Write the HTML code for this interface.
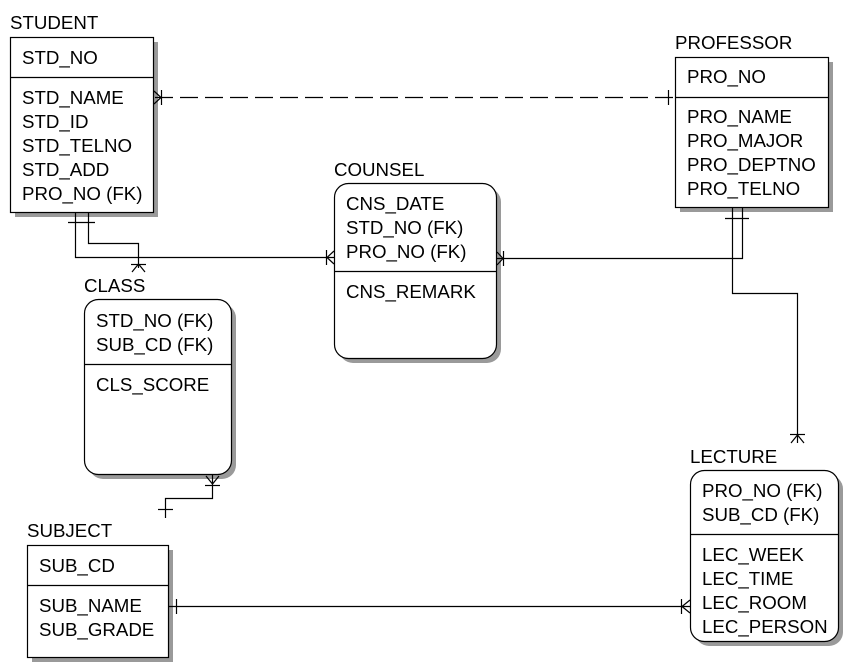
<!DOCTYPE html>
<html><head><meta charset="utf-8"><style>
html,body{margin:0;padding:0;background:#fff;}
svg{display:block;}
text{font-family:"Liberation Sans",Arial,sans-serif;font-size:18.7px;fill:#000;}
</style></head><body>
<svg width="857" height="671" viewBox="0 0 857 671" xmlns="http://www.w3.org/2000/svg">
<g fill="#9a9a9a" stroke="none">
<rect x="15" y="42" width="143" height="175"/>
<rect x="680" y="62" width="153" height="150"/>
<rect x="339" y="188" width="162" height="175" rx="14"/>
<rect x="89" y="304" width="147" height="175" rx="14"/>
<rect x="695" y="475" width="148" height="171" rx="14"/>
<rect x="32" y="550" width="141" height="112"/>
</g>
<g fill="#fff" stroke="#000" stroke-width="1.2">
<rect x="10.5" y="37.5" width="143" height="175"/>
<line x1="10" y1="77.5" x2="153" y2="77.5"/>
<rect x="675.5" y="57.5" width="153" height="150"/>
<line x1="675" y1="97.5" x2="828" y2="97.5"/>
<rect x="334.5" y="183.5" width="162" height="175" rx="14"/>
<line x1="334" y1="271.5" x2="496" y2="271.5"/>
<rect x="84.5" y="299.5" width="147" height="175" rx="14"/>
<line x1="84" y1="364.5" x2="231" y2="364.5"/>
<rect x="690.5" y="470.5" width="148" height="171" rx="14"/>
<line x1="690" y1="534.5" x2="838" y2="534.5"/>
<rect x="27.5" y="545.5" width="141" height="112"/>
<line x1="27" y1="585.5" x2="168" y2="585.5"/>
</g>
<g fill="none" stroke="#000" stroke-width="1.2">
<line x1="155" y1="97.5" x2="675" y2="97.5" stroke-dasharray="18,7"/>
<line x1="161.5" y1="90" x2="161.5" y2="105"/>
<path d="M154 91 L161 97.5 L154 104"/>
<line x1="668.5" y1="90" x2="668.5" y2="105"/>
<polyline points="75.5,213 75.5,257.5 334,257.5"/>
<polyline points="88.5,213 88.5,243.5 138.5,243.5 138.5,268"/>
<line x1="68" y1="222.5" x2="95" y2="222.5"/>
<line x1="131" y1="264.5" x2="146" y2="264.5"/>
<path d="M132 272 L138.5 264 L145 272"/>
<line x1="326.5" y1="250" x2="326.5" y2="265"/>
<path d="M334 251 L327 257.5 L334 264"/>
<polyline points="496,258.5 742.5,258.5 742.5,208"/>
<polyline points="732.5,208 732.5,293.5 797.5,293.5 797.5,443"/>
<line x1="725" y1="218.5" x2="749" y2="218.5"/>
<line x1="503.5" y1="251" x2="503.5" y2="266"/>
<path d="M497 252 L503 258.5 L497 265"/>
<line x1="790" y1="434.5" x2="805" y2="434.5"/>
<path d="M791 443 L797.5 435 L804 443"/>
<polyline points="212.5,475 212.5,498.5 165.5,498.5 165.5,518"/>
<line x1="205" y1="485.5" x2="220" y2="485.5"/>
<path d="M206 476 L212.5 484 L219 476"/>
<line x1="158" y1="509.5" x2="173" y2="509.5"/>
<line x1="169" y1="606.5" x2="690" y2="606.5"/>
<line x1="176.5" y1="599" x2="176.5" y2="614"/>
<line x1="681.5" y1="599" x2="681.5" y2="614"/>
<path d="M690 600 L682 606.5 L690 613"/>
</g>
<text x="10" y="29">STUDENT</text>
<text x="22" y="64">STD_NO</text>
<text x="22" y="104">STD_NAME</text>
<text x="22" y="128">STD_ID</text>
<text x="22" y="152">STD_TELNO</text>
<text x="22" y="176">STD_ADD</text>
<text x="22" y="200">PRO_NO (FK)</text>
<text x="675" y="49">PROFESSOR</text>
<text x="687" y="83">PRO_NO</text>
<text x="687" y="123">PRO_NAME</text>
<text x="687" y="147">PRO_MAJOR</text>
<text x="687" y="171">PRO_DEPTNO</text>
<text x="687" y="195">PRO_TELNO</text>
<text x="334" y="176">COUNSEL</text>
<text x="346" y="210">CNS_DATE</text>
<text x="346" y="234">STD_NO (FK)</text>
<text x="346" y="258">PRO_NO (FK)</text>
<text x="346" y="298">CNS_REMARK</text>
<text x="84" y="292">CLASS</text>
<text x="96" y="327">STD_NO (FK)</text>
<text x="96" y="351">SUB_CD (FK)</text>
<text x="96" y="391">CLS_SCORE</text>
<text x="690" y="463">LECTURE</text>
<text x="702" y="497">PRO_NO (FK)</text>
<text x="702" y="521">SUB_CD (FK)</text>
<text x="702" y="561">LEC_WEEK</text>
<text x="702" y="585">LEC_TIME</text>
<text x="702" y="609">LEC_ROOM</text>
<text x="702" y="633">LEC_PERSON</text>
<text x="27" y="537">SUBJECT</text>
<text x="39" y="572">SUB_CD</text>
<text x="39" y="612">SUB_NAME</text>
<text x="39" y="636">SUB_GRADE</text>
</svg>
</body></html>
